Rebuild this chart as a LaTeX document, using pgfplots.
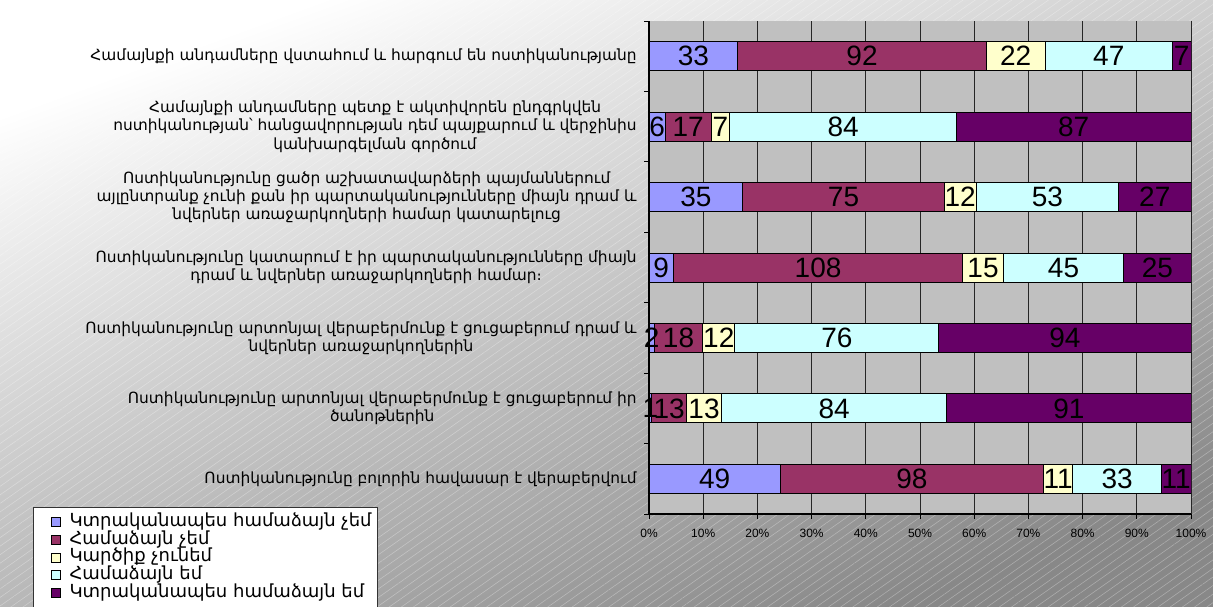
\documentclass[border=0pt]{standalone}
\usepackage{fontspec}
\setmainfont{Liberation Sans}
\newfontfamily\arm{DejaVu Sans}
\usepackage{pgfplots}
\pgfplotsset{compat=1.18}
\usepackage{pgfplotstable}
\usetikzlibrary{patterns.meta}

\definecolor{sA}{HTML}{9999FF}
\definecolor{sB}{HTML}{993366}
\definecolor{sC}{HTML}{FFFFCC}
\definecolor{sD}{HTML}{CCFFFF}
\definecolor{sE}{HTML}{660066}
\definecolor{plotbg}{HTML}{C0C0C0}
\definecolor{bgdark}{HTML}{888888}

\pgfplotstableread{
idx a b c d e t
0 33 92 22 47 7 201
1 6 17 7 84 87 201
2 35 75 12 53 27 202
3 9 108 15 45 25 202
4 2 18 12 76 94 202
5 1 13 13 84 91 202
6 49 98 11 33 11 202
}\data

\pgfplotsset{
  base/.style={scale only axis, width=271pt, height=246.5pt,
    at={(324.5pt,46pt)}, anchor=south west,
    xmin=0, xmax=100, ymin=-0.5, ymax=6.5, y dir=reverse,
    /pgf/number format/assume math mode=true},
  lg/.style={legend image code/.code={\path (-5.5pt,0pt) (9pt,0pt); \draw[##1] (0pt,-2.25pt) rectangle (4.5pt,2.25pt);}},
  lbl/.style={draw=none, mark=none, nodes near coords,
    every node near coord/.style={anchor=center, inner sep=0pt, font=\fontsize{14}{14}\selectfont, text=black}},
}

\begin{document}
\begin{tikzpicture}
\useasboundingbox (0,0) rectangle (606.5pt,303pt);
\shade[top color=white, bottom color=bgdark, shading angle=20] (0,0) rectangle (606.5pt,303pt);
\fill[pattern={Lines[angle=35,distance=3.5pt,line width=0.3pt]}, pattern color=white, opacity=0.3] (0,0) rectangle (606.5pt,303pt);

\begin{axis}[base, xbar stacked, bar width=14.5pt,
  axis background/.style={fill=plotbg},
  axis x line*=bottom, axis y line*=left, axis line style={-, black, line width=0.6pt},
  xtick={0,10,...,100}, xticklabel={\pgfmathprintnumber{\tick}\%},
  xticklabel style={font=\fontsize{6}{6}\selectfont, inner sep=0pt, yshift=-5pt},
  ytick={-0.5,0.5,...,6.5}, yticklabels={},
  tick align=outside, major tick length=2.5pt, tick style={black, line width=0.5pt},
  xmajorgrids=true, major grid style={black!85, line width=0.5pt},
  legend style={at={(axis description cs:-1.1365,0.0142)}, anchor=north west,
    draw=black!80, fill=white, line width=0.5pt,
    font=\arm\fontsize{9}{9}\selectfont, row sep=0pt, inner xsep=3pt, inner ysep=3pt,
    nodes={inner sep=0pt, text height=6.5pt, text depth=2.35pt}},
  legend cell align=left,
]
\addplot[fill=sA, draw=black, line width=0.5pt, lg] table[x expr=\thisrow{a}/\thisrow{t}*100, y=idx] {\data};
\addplot[fill=sB, draw=black, line width=0.5pt, lg] table[x expr=\thisrow{b}/\thisrow{t}*100, y=idx] {\data};
\addplot[fill=sC, draw=black, line width=0.5pt, lg] table[x expr=\thisrow{c}/\thisrow{t}*100, y=idx] {\data};
\addplot[fill=sD, draw=black, line width=0.5pt, lg] table[x expr=\thisrow{d}/\thisrow{t}*100, y=idx] {\data};
\addplot[fill=sE, draw=black, line width=0.5pt, lg] table[x expr=\thisrow{e}/\thisrow{t}*100, y=idx] {\data};
\legend{Կտրականապես համաձայն չեմ, Համաձայն չեմ, Կարծիք չունեմ, Համաձայն եմ, Կտրականապես համաձայն եմ}
\end{axis}

\begin{axis}[base, clip=false,
  axis line style={draw=none}, tick style={draw=none},
  xtick=\empty, ytick={0,...,6}, ytick pos=left,
  yticklabel style={align=center, font=\arm\fontsize{7.7}{9.15}\selectfont, inner sep=0pt, xshift=-6pt},
  yticklabels={
    {Համայնքի անդամները վստահում և հարգում են ոստիկանությանը},
    {Համայնքի անդամները պետք է ակտիվորեն ընդգրկվեն\\ոստիկանության՝ հանցավորության դեմ պայքարում և վերջինիս\\կանխարգելման գործում},
    {Ոստիկանությունը ցածր աշխատավարձերի պայմաններում\\այլընտրանք չունի քան իր պարտականությունները միայն դրամ և\\նվերներ առաջարկողների համար կատարելուց},
    {Ոստիկանությունը կատարում է իր պարտականությունները միայն\\դրամ և նվերներ առաջարկողների համար։},
    {Ոստիկանությունը արտոնյալ վերաբերմունք է ցուցաբերում դրամ և\\նվերներ առաջարկողներին},
    {Ոստիկանությունը արտոնյալ վերաբերմունք է ցուցաբերում իր\\ծանոթներին},
    {Ոստիկանությունը բոլորին հավասար է վերաբերվում}},
]
\addplot[lbl, point meta=\thisrow{a}] table[x expr=(\thisrow{a}/2)/\thisrow{t}*100, y=idx] {\data};
\addplot[lbl, point meta=\thisrow{b}] table[x expr=(\thisrow{a}+\thisrow{b}/2)/\thisrow{t}*100, y=idx] {\data};
\addplot[lbl, point meta=\thisrow{c}] table[x expr=(\thisrow{a}+\thisrow{b}+\thisrow{c}/2)/\thisrow{t}*100, y=idx] {\data};
\addplot[lbl, point meta=\thisrow{d}] table[x expr=(\thisrow{a}+\thisrow{b}+\thisrow{c}+\thisrow{d}/2)/\thisrow{t}*100, y=idx] {\data};
\addplot[lbl, point meta=\thisrow{e}] table[x expr=(\thisrow{a}+\thisrow{b}+\thisrow{c}+\thisrow{d}+\thisrow{e}/2)/\thisrow{t}*100, y=idx] {\data};
\end{axis}
\end{tikzpicture}
\end{document}
